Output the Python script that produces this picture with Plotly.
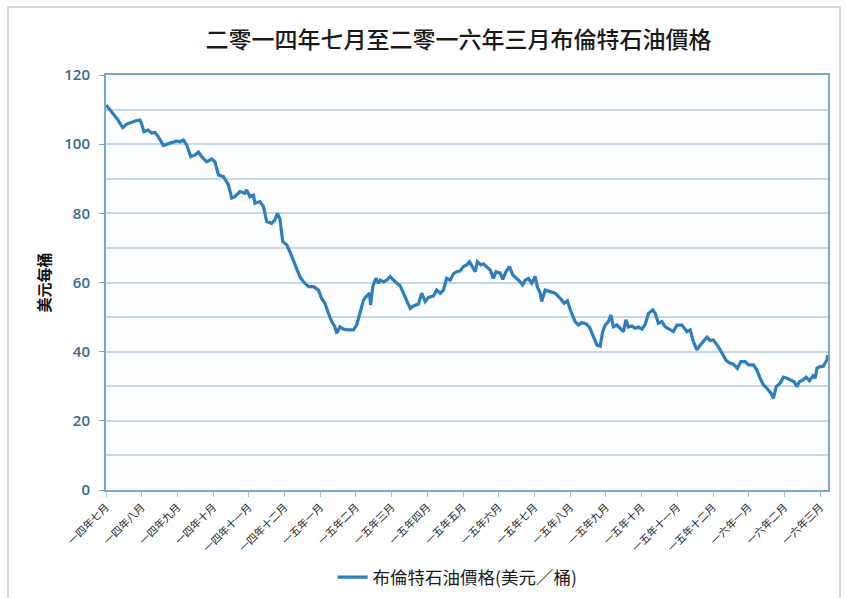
import plotly.graph_objects as go

# Brent crude price, July 2014 - March 2016
# months_elapsed: months since 1 July 2014; price in USD per barrel
months_elapsed = [
    0.00, 0.16, 0.30, 0.47, 0.58, 0.72, 0.81, 0.95, 1.00, 1.06, 1.18, 1.28, 1.37, 1.46,
    1.61, 1.79, 1.98, 2.07, 2.17, 2.26, 2.37, 2.49, 2.59, 2.68, 2.82, 2.96, 3.05, 3.15,
    3.29, 3.43, 3.52, 3.61, 3.75, 3.89, 3.94, 4.03, 4.13, 4.17, 4.31, 4.41, 4.50, 4.64,
    4.73, 4.80, 4.87, 4.95, 5.06, 5.15, 5.25, 5.34, 5.43, 5.53, 5.67, 5.81, 5.95, 6.04,
    6.13, 6.23, 6.32, 6.41, 6.46, 6.55, 6.65, 6.79, 6.93, 7.02, 7.11, 7.21, 7.30, 7.38,
    7.41, 7.47, 7.56, 7.63, 7.68, 7.77, 7.86, 7.96, 8.05, 8.14, 8.24, 8.33, 8.42, 8.52,
    8.61, 8.75, 8.84, 8.94, 9.03, 9.17, 9.26, 9.36, 9.45, 9.54, 9.64, 9.73, 9.82, 9.92,
    10.01, 10.10, 10.18, 10.27, 10.34, 10.40, 10.50, 10.57, 10.66, 10.76, 10.85, 10.92,
    11.04, 11.11, 11.20, 11.30, 11.39, 11.50, 11.60, 11.67, 11.74, 11.83, 11.92, 12.02,
    12.08, 12.16, 12.20, 12.30, 12.44, 12.58, 12.72, 12.83, 12.92, 13.02, 13.14, 13.23,
    13.32, 13.45, 13.54, 13.63, 13.75, 13.84, 13.91, 13.98, 14.07, 14.14, 14.21, 14.31,
    14.40, 14.49, 14.56, 14.63, 14.73, 14.82, 14.91, 15.01, 15.10, 15.19, 15.31, 15.38,
    15.47, 15.57, 15.66, 15.80, 15.89, 15.99, 16.13, 16.27, 16.36, 16.45, 16.55, 16.64,
    16.73, 16.83, 16.92, 17.01, 17.15, 17.25, 17.37, 17.46, 17.57, 17.68, 17.78, 17.90,
    17.99, 18.13, 18.23, 18.32, 18.41, 18.51, 18.62, 18.69, 18.77, 18.88, 18.97, 19.07,
    19.18, 19.27, 19.35, 19.42, 19.52, 19.61, 19.70, 19.80, 19.86, 19.91, 20.00, 20.09,
    20.19, 20.22,
]
brent_price = [
    111.3, 109.2, 107.5, 104.8, 105.8, 106.3, 106.7, 107.0, 105.8, 103.6, 104.1, 103.2, 103.4, 102.2,
    99.6, 100.3, 100.9, 100.7, 101.2, 99.8, 96.4, 96.9, 97.7, 96.4, 94.9, 95.7, 94.9, 91.1,
    90.6, 88.2, 84.4, 84.8, 86.3, 85.8, 86.8, 84.8, 85.3, 82.9, 83.4, 81.9, 77.6, 77.1,
    78.1, 80.0, 78.4, 71.8, 70.9, 68.9, 66.5, 64.1, 61.7, 60.2, 58.8, 58.8, 57.8, 55.4,
    54.0, 51.1, 48.7, 47.2, 45.3, 47.2, 46.5, 46.3, 46.3, 47.7, 51.1, 54.9, 56.1, 56.9,
    53.5, 58.8, 61.2, 59.8, 60.7, 60.2, 60.7, 61.7, 60.7, 59.8, 59.0, 56.9, 54.9, 52.5,
    53.2, 53.8, 56.9, 54.5, 55.7, 56.1, 57.8, 56.9, 57.8, 61.2, 60.7, 62.5, 63.1, 63.4,
    64.6, 65.1, 66.0, 64.1, 63.1, 66.0, 65.1, 65.4, 64.6, 63.6, 61.2, 63.1,
    62.7, 60.9, 63.1, 64.6, 62.2, 61.2, 60.2, 59.3, 60.7, 61.2, 59.8, 61.7,
    58.8, 56.9, 54.5, 57.8, 57.3, 56.9, 55.4, 54.0, 54.7, 51.6, 48.7, 47.7,
    48.4, 48.0, 47.1, 44.8, 41.9, 41.6, 45.8, 47.7, 48.7, 50.6, 47.2, 47.7,
    46.8, 45.8, 49.2, 47.1, 47.4, 46.8, 47.1, 46.5, 47.9, 51.0, 52.1, 51.1,
    48.2, 48.7, 47.2, 46.3, 45.8, 47.7, 47.7, 45.8, 46.3, 42.9, 40.5, 41.9,
    42.9, 44.2, 43.2, 43.4, 41.4, 39.5, 37.4, 36.8, 36.4, 35.2, 37.1, 37.1,
    36.2, 36.2, 34.7, 32.3, 30.4, 29.4, 28.0, 26.5, 29.9, 30.9, 32.6, 32.3,
    31.8, 31.3, 29.9, 31.3, 31.8, 32.6, 31.6, 33.0, 32.3, 35.2, 35.7, 35.8,
    37.6, 39.0,
]

month_labels = [
    "一四年七月", "一四年八月", "一四年九月", "一四年十月", "一四年十一月", "一四年十二月",
    "一五年一月", "一五年二月", "一五年三月", "一五年四月", "一五年五月", "一五年六月",
    "一五年七月", "一五年八月", "一五年九月", "一五年十月", "一五年十一月", "一五年十二月",
    "一六年一月", "一六年二月", "一六年三月",
]

chart_title = "二零一四年七月至二零一六年三月布倫特石油價格"
y_title = "美元每桶"
series_name = "布倫特石油價格(美元／桶)"

CJK = "Noto Sans CJK TC"
AXIS_BLUE = "#7ba6c4"
GRID = "#c6d8e3"

fig = go.Figure(
    go.Scatter(
        x=months_elapsed,
        y=brent_price,
        mode="lines",
        name=series_name,
        line=dict(color="#2f7dbd", width=3.2),
    )
)

fig.update_layout(
    width=846,
    height=598,
    margin=dict(l=106, r=18, t=75, b=108, autoexpand=False),
    paper_bgcolor="white",
    plot_bgcolor="#fdfeff",
    title=dict(
        text=chart_title,
        x=0.542, xanchor="center",
        y=0.933, yanchor="middle",
        font=dict(family=CJK, size=23, color="#1a1a1a", weight=500),
    ),
    showlegend=True,
    legend=dict(
        orientation="h",
        x=0.487, xanchor="center",
        y=-0.21, yanchor="middle",
        font=dict(family=CJK, size=17.5, color="#1a1a1a"),
        bgcolor="rgba(0,0,0,0)",
    ),
    shapes=[
        # outer frame around the chart
        dict(
            type="rect", xref="paper", yref="paper",
            x0=(8 - 106) / 722, x1=(840 - 106) / 722,
            y0=(490 - 604) / 415, y1=(490 - 7) / 415,
            line=dict(color="#c9cdd2", width=1.5),
            fillcolor="rgba(0,0,0,0)",
            layer="below",
        )
    ],
)

fig.update_xaxes(
    range=[0, 20.22],
    tickmode="array",
    tickvals=list(range(len(month_labels))),
    ticktext=month_labels,
    tickangle=-45,
    tickfont=dict(family=CJK, size=10.5, color="#222222"),
    ticks="outside",
    ticklen=5,
    tickcolor="#9fc3dc",
    showgrid=False,
    zeroline=False,
    showline=True,
    linecolor=AXIS_BLUE,
    linewidth=2,
    mirror=True,
)

fig.update_yaxes(
    range=[0, 120],
    dtick=20,
    tick0=0,
    tickfont=dict(family="Open Sans", size=15, color="#3a6889", weight=600),
    ticks="outside",
    ticklen=5,
    tickcolor=AXIS_BLUE,
    ticklabelstandoff=6,
    showgrid=True,
    gridcolor=GRID,
    gridwidth=1.5,
    minor=dict(dtick=10, showgrid=True, gridcolor=GRID, gridwidth=1.5),
    zeroline=False,
    showline=True,
    linecolor=AXIS_BLUE,
    linewidth=2,
    mirror=True,
    title=dict(
        text=y_title,
        standoff=10,
        font=dict(family=CJK, size=15, color="#111111", weight="bold"),
    ),
)

fig.write_html("out.html")
